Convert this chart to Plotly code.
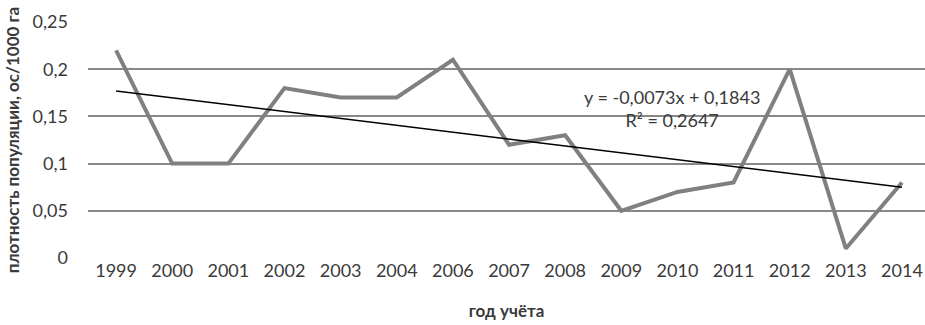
import numpy as np
import plotly.graph_objects as go

years = ["1999", "2000", "2001", "2002", "2003", "2004", "2006", "2007",
         "2008", "2009", "2010", "2011", "2012", "2013", "2014"]
density = [0.22, 0.10, 0.10, 0.18, 0.17, 0.17, 0.21, 0.12,
           0.13, 0.05, 0.07, 0.08, 0.20, 0.01, 0.08]
y_ticks = [0, 0.05, 0.1, 0.15, 0.2, 0.25]
y_tick_text = ["0", "0,05", "0,1", "0,15", "0,2", "0,25"]

idx = np.arange(1, len(density) + 1)
slope, intercept = np.polyfit(idx, density, 1)
trend = slope * idx + intercept

FONT = "Lato, Carlito, Calibri, sans-serif"
TXT = "#3a3a3a"

fig = go.Figure()
fig.add_trace(go.Scatter(x=years, y=density, mode="lines",
                         line=dict(color="#808080", width=4), showlegend=False))
fig.add_trace(go.Scatter(x=years, y=trend, mode="lines",
                         line=dict(color="#000000", width=1.5), showlegend=False))

fig.add_annotation(x=0.698, y=0.633, xref="paper", yref="paper",
                   xanchor="center", yanchor="middle",
                   text="y = -0,0073x + 0,1843<br>R² = 0,2647", showarrow=False,
                   font=dict(family=FONT, size=18, color=TXT), align="center")

fig.update_layout(
    width=925, height=325,
    margin=dict(l=88, r=0, t=22, b=67),
    plot_bgcolor="white", paper_bgcolor="white",
    font=dict(family=FONT, size=18, color=TXT),
    xaxis=dict(type="category", range=[-0.5, 14.41], showgrid=False,
               showline=False, ticks="", zeroline=False,
               title=dict(text="<b>год учёта</b>", standoff=25,
                          font=dict(size=17, color=TXT))),
    yaxis=dict(range=[0, 0.25], tickvals=y_ticks, ticktext=y_tick_text,
               showgrid=True, gridcolor="#888888", gridwidth=1.5,
               zeroline=False, showline=False, ticks="",
               ticklabelstandoff=19,
               title=dict(text="<b>плотность популяции, ос/1000 га</b>", standoff=8,
                          font=dict(size=17, color=TXT))),
)

fig.write_html("out.html", config={"displayModeBar": False},
               post_script="document.body.style.margin='0';document.body.style.overflow='hidden';")
